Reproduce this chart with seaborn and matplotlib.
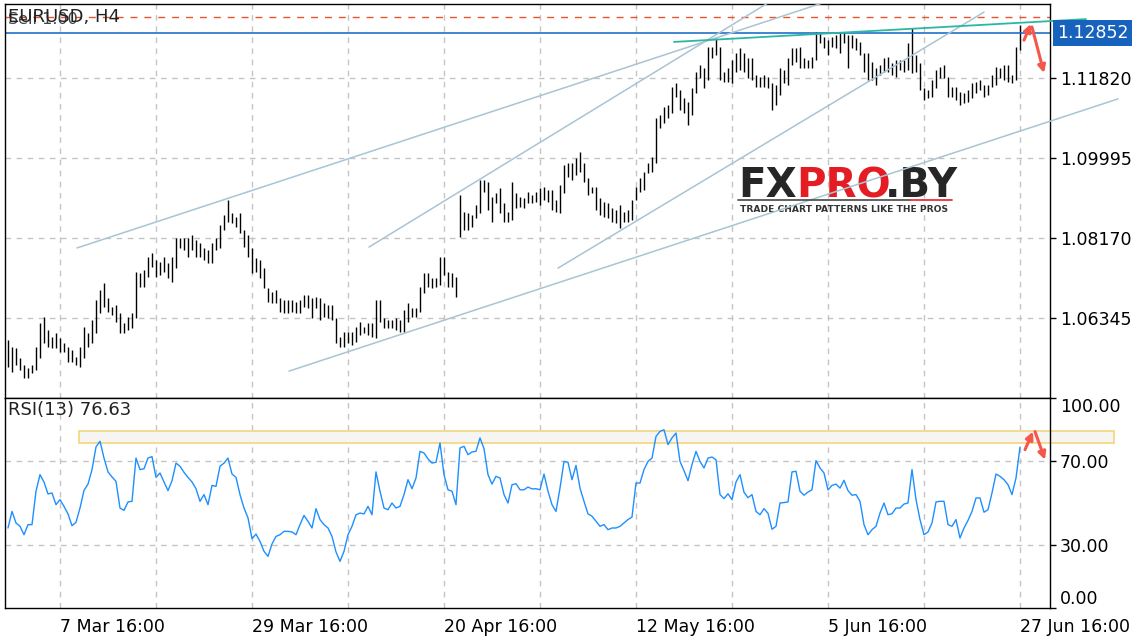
import numpy as np
import matplotlib
matplotlib.use("Agg")
import matplotlib.pyplot as plt
import matplotlib.transforms as mtransforms
from matplotlib.lines import Line2D
from matplotlib.patches import Rectangle
import seaborn as sns

# EURUSD H4, one entry per two H4 bars (high / low)
highs = [
    1.0585, 1.0569, 1.0567, 1.0544, 1.0528, 1.0521, 1.0528, 1.0569, 1.0624, 1.0638,
    1.0608, 1.0592, 1.0601, 1.0590, 1.0578, 1.0569, 1.0562, 1.0546, 1.0569, 1.0615,
    1.0601, 1.0631, 1.0676, 1.0699, 1.0715, 1.0681, 1.0660, 1.0665, 1.0647, 1.0624,
    1.0638, 1.0647, 1.0740, 1.0738, 1.0745, 1.0774, 1.0783, 1.0767, 1.0763, 1.0774,
    1.0761, 1.0774, 1.0818, 1.0818, 1.0818, 1.0818, 1.0825, 1.0813, 1.0806, 1.0795,
    1.0790, 1.0806, 1.0818, 1.0847, 1.0870, 1.0904, 1.0875, 1.0866, 1.0875, 1.0836,
    1.0825, 1.0795, 1.0772, 1.0767, 1.0749, 1.0704, 1.0694, 1.0699, 1.0681, 1.0676,
    1.0676, 1.0676, 1.0672, 1.0676, 1.0688, 1.0688, 1.0681, 1.0683, 1.0681, 1.0669,
    1.0665, 1.0665, 1.0635, 1.0592, 1.0603, 1.0603, 1.0603, 1.0615, 1.0626, 1.0615,
    1.0624, 1.0624, 1.0676, 1.0676, 1.0635, 1.0631, 1.0631, 1.0635, 1.0631, 1.0653,
    1.0669, 1.0658, 1.0658, 1.0706, 1.0738, 1.0738, 1.0726, 1.0726, 1.0774, 1.0774,
    1.0740, 1.0738, 1.0729, 1.0916, 1.0877, 1.0875, 1.0870, 1.0893, 1.0950, 1.0950,
    1.0945, 1.0911, 1.0920, 1.0932, 1.0898, 1.0877, 1.0945, 1.0920, 1.0911, 1.0909,
    1.0923, 1.0916, 1.0923, 1.0932, 1.0934, 1.0927, 1.0927, 1.0904, 1.0939, 1.0984,
    1.0989, 1.0989, 1.1000, 1.1014, 1.0989, 1.0955, 1.0934, 1.0934, 1.0909, 1.0900,
    1.0898, 1.0886, 1.0882, 1.0893, 1.0877, 1.0882, 1.0904, 1.0934, 1.0955, 1.0968,
    1.0989, 1.1002, 1.1091, 1.1098, 1.1117, 1.1121, 1.1162, 1.1171, 1.1155, 1.1137,
    1.1128, 1.1160, 1.1196, 1.1212, 1.1205, 1.1253, 1.1253, 1.1274, 1.1253, 1.1196,
    1.1205, 1.1224, 1.1240, 1.1251, 1.1240, 1.1228, 1.1228, 1.1190, 1.1185, 1.1190,
    1.1185, 1.1171, 1.1167, 1.1205, 1.1201, 1.1228, 1.1251, 1.1251, 1.1253, 1.1228,
    1.1224, 1.1231, 1.1288, 1.1285, 1.1276, 1.1269, 1.1276, 1.1281, 1.1285, 1.1285,
    1.1281, 1.1281, 1.1274, 1.1265, 1.1240, 1.1240, 1.1219, 1.1205, 1.1212, 1.1228,
    1.1231, 1.1217, 1.1224, 1.1224, 1.1224, 1.1263, 1.1297, 1.1235, 1.1217, 1.1160,
    1.1155, 1.1178, 1.1201, 1.1208, 1.1212, 1.1185, 1.1162, 1.1162, 1.1151, 1.1148,
    1.1155, 1.1171, 1.1174, 1.1178, 1.1167, 1.1167, 1.1190, 1.1208, 1.1205, 1.1212,
    1.1212, 1.1190, 1.1253, 1.1304,
]
lows = [
    1.0523, 1.0512, 1.0528, 1.0517, 1.0498, 1.0498, 1.0510, 1.0517, 1.0544, 1.0578,
    1.0569, 1.0567, 1.0567, 1.0558, 1.0558, 1.0535, 1.0535, 1.0528, 1.0523, 1.0544,
    1.0569, 1.0578, 1.0601, 1.0647, 1.0660, 1.0649, 1.0642, 1.0626, 1.0601, 1.0601,
    1.0608, 1.0612, 1.0635, 1.0706, 1.0706, 1.0729, 1.0752, 1.0729, 1.0733, 1.0740,
    1.0726, 1.0717, 1.0749, 1.0795, 1.0790, 1.0774, 1.0790, 1.0774, 1.0774, 1.0767,
    1.0761, 1.0761, 1.0790, 1.0795, 1.0836, 1.0854, 1.0852, 1.0843, 1.0829, 1.0797,
    1.0774, 1.0738, 1.0740, 1.0726, 1.0704, 1.0672, 1.0669, 1.0669, 1.0649, 1.0647,
    1.0647, 1.0649, 1.0647, 1.0647, 1.0660, 1.0658, 1.0635, 1.0658, 1.0631, 1.0638,
    1.0635, 1.0631, 1.0578, 1.0569, 1.0569, 1.0578, 1.0574, 1.0580, 1.0596, 1.0601,
    1.0596, 1.0592, 1.0590, 1.0626, 1.0612, 1.0612, 1.0612, 1.0608, 1.0603, 1.0603,
    1.0626, 1.0638, 1.0638, 1.0649, 1.0692, 1.0706, 1.0704, 1.0706, 1.0710, 1.0733,
    1.0706, 1.0706, 1.0683, 1.0820, 1.0836, 1.0836, 1.0843, 1.0863, 1.0875, 1.0923,
    1.0882, 1.0854, 1.0898, 1.0875, 1.0854, 1.0854, 1.0859, 1.0886, 1.0888, 1.0886,
    1.0898, 1.0898, 1.0900, 1.0893, 1.0904, 1.0900, 1.0882, 1.0877, 1.0875, 1.0920,
    1.0957, 1.0950, 1.0961, 1.0968, 1.0945, 1.0916, 1.0920, 1.0882, 1.0870, 1.0866,
    1.0863, 1.0854, 1.0852, 1.0840, 1.0854, 1.0854, 1.0859, 1.0904, 1.0923, 1.0927,
    1.0966, 1.0968, 1.0989, 1.1069, 1.1080, 1.1091, 1.1103, 1.1139, 1.1110, 1.1103,
    1.1075, 1.1098, 1.1148, 1.1183, 1.1160, 1.1178, 1.1228, 1.1235, 1.1178, 1.1174,
    1.1174, 1.1171, 1.1196, 1.1201, 1.1196, 1.1183, 1.1178, 1.1162, 1.1162, 1.1162,
    1.1160, 1.1110, 1.1121, 1.1144, 1.1171, 1.1167, 1.1212, 1.1219, 1.1205, 1.1205,
    1.1205, 1.1205, 1.1224, 1.1263, 1.1251, 1.1235, 1.1253, 1.1251, 1.1240, 1.1263,
    1.1205, 1.1251, 1.1247, 1.1235, 1.1196, 1.1178, 1.1178, 1.1167, 1.1190, 1.1196,
    1.1196, 1.1190, 1.1185, 1.1201, 1.1196, 1.1201, 1.1194, 1.1196, 1.1155, 1.1132,
    1.1137, 1.1139, 1.1160, 1.1183, 1.1183, 1.1139, 1.1139, 1.1132, 1.1121, 1.1126,
    1.1128, 1.1137, 1.1148, 1.1155, 1.1139, 1.1144, 1.1162, 1.1167, 1.1183, 1.1178,
    1.1174, 1.1171, 1.1178, 1.1247,
]
rsi = [
    38.1, 46.0, 40.5, 38.9, 34.9, 39.7, 39.7, 55.6, 63.5, 60.0,
    54.3, 54.8, 49.2, 51.6, 48.4, 44.8, 39.2, 40.8, 47.6, 56.0,
    59.0, 65.9, 76.7, 79.4, 71.4, 64.8, 62.4, 60.3, 47.6, 46.5,
    50.5, 50.8, 71.4, 65.9, 66.3, 71.4, 72.1, 62.2, 64.3, 60.0,
    55.9, 60.6, 69.0, 67.5, 64.6, 62.2, 60.0, 56.8, 50.8, 54.0,
    49.2, 58.4, 57.9, 67.5, 69.0, 71.4, 63.8, 62.2, 54.0, 47.6,
    42.9, 33.0, 35.2, 31.7, 27.0, 24.6, 30.5, 34.1, 34.9, 36.5,
    36.5, 36.2, 34.9, 39.7, 44.1, 41.3, 38.1, 47.3, 42.1, 39.7,
    38.1, 34.1, 26.7, 22.2, 27.0, 34.9, 38.9, 44.4,
    45.2, 44.8, 48.4, 44.4, 64.8, 55.6, 47.6, 46.8, 50.0, 47.6,
    48.4, 54.0, 61.1, 56.8, 61.9, 74.6, 73.8, 71.0, 69.0, 69.4,
    78.6, 63.5, 56.3, 55.6, 49.2, 76.2, 77.0, 73.0, 74.3, 74.6,
    81.0, 75.9, 63.5, 59.0, 62.7, 61.9, 54.0, 50.0, 58.7, 59.2,
    56.3, 56.3, 57.6, 56.7, 56.8, 56.3, 63.8, 55.6, 49.2, 46.0,
    57.1, 69.8, 69.4, 61.1, 67.9, 57.1, 50.8, 44.8, 43.7, 41.3,
    38.9, 39.7, 37.3, 38.1, 38.1, 38.9, 40.5, 42.1, 43.3, 59.5,
    59.5, 65.9, 69.8, 71.4, 81.7, 84.1, 84.9, 77.8, 81.0, 83.3,
    69.8, 65.4, 60.6, 68.3, 74.6, 69.8, 66.7, 71.4,
    71.9, 70.6, 54.0, 52.1, 54.4, 51.6, 60.0, 63.5, 55.1, 52.5,
    54.0, 46.0, 44.4, 47.3, 45.1, 37.5, 38.9, 50.0, 50.2, 50.5,
    64.8, 65.1, 55.6, 53.7, 55.2, 56.3, 70.2, 66.7, 64.3, 56.2,
    58.4, 59.0, 57.1, 60.8, 55.9, 53.7, 54.0, 50.8, 39.7, 34.9,
    37.3, 38.9, 45.2, 50.0, 44.4, 44.9, 47.6, 47.6, 49.5, 50.0,
    65.9, 51.6, 42.1, 34.9, 36.2, 40.5, 50.5, 50.8, 50.8, 39.7,
    38.9, 42.1, 33.3, 38.1, 41.7, 46.0, 52.4, 52.4, 45.6, 46.8,
    54.8, 63.8, 62.7, 61.1, 58.7, 54.0, 61.9, 76.63,
]

last_price = 1.12852
ask_line = 1.13225
price_ticks = [1.06345, 1.08170, 1.09995, 1.11820]
rsi_ticks = [0, 30, 70, 100]
grid_idx = [13, 37, 61, 85, 109, 133, 157, 181, 205, 229, 253]
label_idx = [13, 61, 109, 157, 205, 253]
date_labels = ["7 Mar 16:00", "29 Mar 16:00", "20 Apr 16:00",
               "12 May 16:00", "5 Jun 16:00", "27 Jun 16:00"]

# drawn objects: (index0, price0, index1, price1)
trend_lines = [
    (17.25, 1.0795, 206.0, 1.1361),
    (90.25, 1.0797, 191.25, 1.1361),
    (137.5, 1.0749, 244.0, 1.1333),
]
long_line = (70.25, 1.0514, 277.5, 1.1135)
resistance = (166.5, 1.1265, 269.5, 1.1317)
rsi_zone = (17.75, 78.6, 276.5, 84.1)

sns.set_style("white")
plt.rcParams['font.family'] = ['DejaVu Sans']

fig = plt.figure(figsize=(11.36, 6.4), dpi=100)
ax1 = fig.add_axes([5 / 1136, 1 - 398 / 640, 1045 / 1136, 394 / 640])
ax2 = fig.add_axes([5 / 1136, 1 - 608 / 640, 1045 / 1136, 210 / 640])

idx = np.arange(len(highs))
grid_kw = dict(color='#c4c4c4', lw=1, ls=(0, (4, 4)), zorder=1)
trend_col = '#a9c4d3'
red = '#f4574b'

# --- price panel ---
for g in grid_idx:
    ax1.axvline(g, **grid_kw)
for t in price_ticks:
    ax1.axhline(t, **grid_kw)
ax1.vlines(idx, lows, highs, color='black', linewidth=1.0, zorder=2)
ax1.axhline(ask_line, color='#e8542c', lw=1, ls=(0, (5, 5)), zorder=2)
ax1.axhline(last_price, color='#0a64c2', lw=1.1, zorder=2)

for x0, y0, x1, y1 in trend_lines:
    ax1.plot([x0, x1], [y0, y1], color=trend_col, lw=1.1, zorder=3)
ax1.plot([long_line[0], long_line[2]], [long_line[1], long_line[3]],
         color=trend_col, lw=1.1, zorder=3, clip_on=False)
ax1.plot([resistance[0], resistance[2]], [resistance[1], resistance[3]],
         color='#2bb7a2', lw=1.3, zorder=3, clip_on=False)

arrow_kw = dict(arrowstyle='-|>', color=red, lw=2.2, mutation_scale=11,
                shrinkA=0, shrinkB=0)
ax1.annotate('', xy=(255.75, 1.1306), xytext=(254.0, 1.1269), arrowprops=arrow_kw)
ax1.annotate('', xy=(259.0, 1.1194), xytext=(256.0, 1.1299), arrowprops=arrow_kw)

ax1.set_xlim(-0.75, 260.5)
ax1.set_ylim(1.04527, 1.13515)
ax1.yaxis.tick_right()
ax1.set_yticks(price_ticks)
ax1.set_yticklabels(['%.5f' % t for t in price_ticks])
ax1.tick_params(axis='y', length=4, width=1, pad=3, labelsize=12.5,
                direction='out', colors='black')
ax1.set_xticks([])

trans = mtransforms.blended_transform_factory(ax1.transAxes, ax1.transData)
ax1.text(1.0068, last_price, '%.5f' % last_price, transform=trans, color='white',
         fontsize=12.5, va='center', ha='left', clip_on=False,
         bbox=dict(boxstyle='square,pad=0.22', fc='#1762bd', ec='none'))

# watermark
ax1.text(738 / 1136, 1 - 197 / 640, 'FX', transform=fig.transFigure, fontsize=29,
         fontweight='bold', color='#262626', va='baseline', zorder=1.5)
ax1.text(796 / 1136, 1 - 197 / 640, 'PRO', transform=fig.transFigure, fontsize=29,
         fontweight='bold', color='#e41d25', va='baseline', zorder=1.5)
ax1.text(885 / 1136, 1 - 197 / 640, '.BY', transform=fig.transFigure, fontsize=29,
         fontweight='bold', color='#262626', va='baseline', zorder=1.5)
ax1.text(740 / 1136, 1 - 209.5 / 640, 'TRADE CHART PATTERNS LIKE THE PROS',
         transform=fig.transFigure, fontsize=6.6, fontweight='bold',
         color='#333333', va='center', zorder=1.5)
fig.add_artist(Line2D([738 / 1136, 910 / 1136], [1 - 200 / 640] * 2,
                      color='#555555', lw=1.3))
fig.add_artist(Line2D([910 / 1136, 952 / 1136], [1 - 200 / 640] * 2,
                      color='#e8303a', lw=1.3))

# trading panel caption overlapped by the symbol caption, as on the chart
fig.text(8 / 1136, 1 - 20 / 640, 'Sell 1.00', fontsize=11.5, color='#444444',
         va='center')
fig.text(8 / 1136, 1 - 17 / 640, 'EURUSD, H4', fontsize=13, color='#222222',
         va='center')

# --- RSI panel ---
for g in grid_idx:
    ax2.axvline(g, **grid_kw)
for t in (30, 70):
    ax2.axhline(t, **grid_kw)
ax2.add_patch(Rectangle((rsi_zone[0], rsi_zone[1]), rsi_zone[2] - rsi_zone[0],
                        rsi_zone[3] - rsi_zone[1], facecolor='#f7f5f1',
                        edgecolor='#f3d57c', lw=1.2, zorder=1.5, clip_on=False))
sns.lineplot(x=idx, y=rsi, ax=ax2, color='#1e8fff', linewidth=1.0, zorder=3)
ax2.annotate('', xy=(256.25, 84.0), xytext=(254.25, 75.4), arrowprops=arrow_kw)
ax2.annotate('', xy=(259.25, 70.6), xytext=(256.75, 84.0), arrowprops=arrow_kw)

ax2.set_xlim(-0.75, 260.5)
ax2.set_ylim(0, 100)
ax2.yaxis.tick_right()
ax2.set_yticks(rsi_ticks)
ax2.set_yticklabels(['%.2f' % t for t in rsi_ticks])
for lab in ax2.get_yticklabels():
    if lab.get_text() == '100.00':
        lab.set_va('top')
    elif lab.get_text() == '0.00':
        lab.set_va('bottom')
ax2.tick_params(axis='y', length=4, width=1, pad=3, labelsize=12.5,
                direction='out', colors='black')
ax2.set_xticks(label_idx)
ax2.set_xticklabels(date_labels, ha='left')
ax2.tick_params(axis='x', length=4, width=1, pad=3, labelsize=12.5,
                direction='out', colors='black')
ax2.set_xlabel('')
ax2.set_ylabel('')

fig.text(8 / 1136, 1 - 410 / 640, 'RSI(%d) %.2f' % (13, rsi[-1]), fontsize=13,
         color='#222222', va='center')

for ax in (ax1, ax2):
    for s in ax.spines.values():
        s.set_visible(True)
        s.set_color('black')
        s.set_linewidth(1)

fig.savefig('out.png', dpi=100)
